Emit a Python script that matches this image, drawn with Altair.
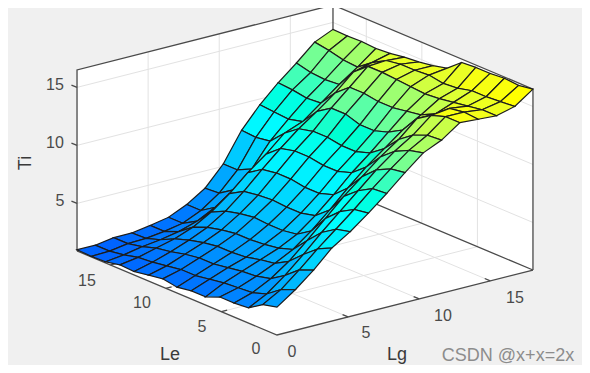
import altair as alt

# Ti[i][j]: i = Lg index (0..14), j = Le index (0..14); 15 x 15 grid over 0..18
TI = [
 [3.3,3.0,2.2,2.1,2.1,1.6,1.6,1.4,1.6,1.4,1.2,1.25,1.0,0.95,1.0],
 [4.4,3.9,3.0,2.6,2.5,2.4,2.2,2.0,2.0,1.8,1.6,1.5,1.2,1.0,1.0],
 [5.7,5.2,4.2,3.4,3.1,3.0,2.8,2.6,2.6,2.4,2.1,1.9,1.5,1.25,1.25],
 [7.2,6.6,5.6,4.5,3.8,3.6,3.3,3.2,3.2,3.0,2.7,2.3,1.7,1.3,1.25],
 [8.2,7.9,7.1,5.9,4.6,4.2,4.0,3.9,3.9,3.7,3.4,2.9,2.0,1.5,1.5],
 [9.4,9.2,8.5,7.4,5.8,5.0,4.8,4.8,4.9,4.7,4.4,3.8,2.5,1.8,1.8],
 [10.7,10.6,9.9,8.9,7.2,6.2,5.9,5.9,6.0,5.9,5.7,5.0,3.3,2.5,2.5],
 [12.1,11.9,11.3,10.2,8.7,7.6,7.2,7.2,7.4,7.4,7.2,6.4,4.4,3.6,3.5],
 [13.4,13.1,12.5,11.5,10.1,9.1,8.7,8.7,8.9,8.9,8.6,7.6,5.8,5.2,5.2],
 [14.1,14.0,13.5,12.6,11.3,10.4,10.0,10.0,10.2,10.2,9.9,9.0,7.8,7.6,7.7],
 [15.2,15.2,14.8,14.0,12.5,11.8,11.4,11.4,11.8,11.8,11.0,9.6,9.3,9.4,9.5],
 [15.1,15.2,15.0,14.0,13.4,13.2,13.0,13.0,13.2,13.2,12.2,10.8,10.7,10.9,11.0],
 [15.0,15.0,14.8,14.6,14.4,14.3,14.4,14.5,14.6,14.6,13.6,12.0,11.9,12.0,12.3],
 [15.4,15.3,15.2,15.2,14.9,14.8,15.0,14.9,14.9,14.7,14.0,13.1,13.2,13.5,13.7],
 [16.5,16.3,16.4,16.3,16.3,16.2,15.2,14.9,14.7,14.6,14.4,14.3,14.4,14.35,14.4],
]
N = 15
AX_MAX = 18.0
Z_MIN, Z_MAX = 0.9, 16.5
TICKS_XY = [5, 10, 15]
TICKS_Z = [5, 10, 15]
COLOR_DOMAIN = [1, 8, 15.4]
COLOR_RANGE = ["#0064ff", "#00ffff", "#ffff00"]

def P(lg, le, z):
    """3-D to page projection of the axes box (orthographic)."""
    x = 277 + 14.22 * lg - 11.11 * le
    y = 335 - 3.61 * lg - 4.67 * le - 11.6 * (z - Z_MIN)
    return [round(x - 8, 2), round(y - 8, 2)]

def line(*pts):
    return {"type": "Feature", "properties": {}, "geometry": {"type": "LineString", "coordinates": list(pts)}}

def poly(pts, **props):
    return {"type": "Feature", "properties": props,
            "geometry": {"type": "Polygon", "coordinates": [pts + [pts[0]]]}}

A, L, H = AX_MAX, Z_MIN, Z_MAX
walls = [
    poly([P(0, A, L), P(A, A, L), P(A, A, H), P(0, A, H)]),
    poly([P(A, A, L), P(A, 0, L), P(A, 0, H), P(A, A, H)]),
    poly([P(0, 0, L), P(A, 0, L), P(A, A, L), P(0, A, L)]),
]
grid = []
for t in TICKS_XY:
    grid.append(line(P(t, A, L), P(t, A, H)))
    grid.append(line(P(t, 0, L), P(t, A, L)))
    grid.append(line(P(A, t, L), P(A, t, H)))
    grid.append(line(P(0, t, L), P(A, t, L)))
for t in TICKS_Z:
    grid.append(line(P(0, A, t), P(A, A, t)))
    grid.append(line(P(A, A, t), P(A, 0, t)))

box = [
    line(P(0, A, L), P(0, A, H), P(A, A, H), P(A, 0, H), P(A, 0, L)),
    line(P(A, A, H), P(A, A, L)),
    line(P(0, A, L), P(A, A, L), P(A, 0, L)),
    line(P(0, A, L), P(0, 0, L), P(A, 0, L)),
]
for t in TICKS_XY:
    box.append(line(P(0, t, L), P(0.4, t, L)))
    box.append(line(P(t, 0, L), P(t, 0.5, L)))
for t in TICKS_Z:
    box.append(line(P(0, A, t), P(0, A + 0.5, t)))

step = AX_MAX / (N - 1)
faces = []
for i in range(N - 2, -1, -1):
    for j in range(N - 2, -1, -1):
        faces.append(poly([
            P(i * step, j * step, TI[i][j]),
            P((i + 1) * step, j * step, TI[i + 1][j]),
            P((i + 1) * step, (j + 1) * step, TI[i + 1][j + 1]),
            P(i * step, (j + 1) * step, TI[i][j + 1]),
        ], c=TI[i][j]))

def lab(text, x, y, **kw):
    return dict(t=text, lon=x - 8, lat=y - 8, **kw)

tick_labels = [
    lab("15", 55, 85), lab("10", 55, 143), lab("5", 60, 201),
    lab("15", 87, 281), lab("10", 142, 303), lab("5", 202, 327), lab("0", 256, 349),
    lab("0", 292, 352), lab("5", 366, 333), lab("10", 443, 316), lab("15", 515, 298),
]
axis_titles = [lab("Le", 170, 355), lab("Lg", 397, 355)]
z_title = [lab("Ti", 26, 163)]
watermark = [lab("CSDN @x+x=2x", 508, 356)]

proj = alt.Projection(type="identity", scale=1, translate=[0, 0])

def geo(features, **mk):
    return alt.Chart(alt.Data(values=features)).mark_geoshape(**mk).project(**proj.to_dict())

def txt(rows, **mk):
    return alt.Chart(alt.Data(values=rows)).mark_text(font="Liberation Sans", **mk).encode(
        longitude="lon:Q", latitude="lat:Q", text="t:N").project(**proj.to_dict())

surface = geo(faces, stroke="#1c1c1c", strokeWidth=1.2).encode(
    color=alt.Color("properties.c:Q", legend=None,
                    scale=alt.Scale(domain=COLOR_DOMAIN, range=COLOR_RANGE, clamp=True)))

chart = alt.layer(
    geo(walls, fill="#ffffff", stroke=None),
    geo(grid, filled=False, stroke="#e2e2e2", strokeWidth=1),
    geo(box, filled=False, stroke="#4a4a4a", strokeWidth=1.3),
    surface,
    txt(tick_labels, fontSize=16, color="#4a4a4a"),
    txt(axis_titles, fontSize=18, color="#3a3a3a"),
    txt(z_title, fontSize=18, color="#3a3a3a", angle=270),
    txt(watermark, fontSize=18, color="#8c8c8c"),
).properties(width=574, height=357, padding=0, autosize="none", background="#f0f0f0"
).configure_view(stroke=None)

chart.save("out.html", embed_options={"renderer": "svg", "actions": False})
